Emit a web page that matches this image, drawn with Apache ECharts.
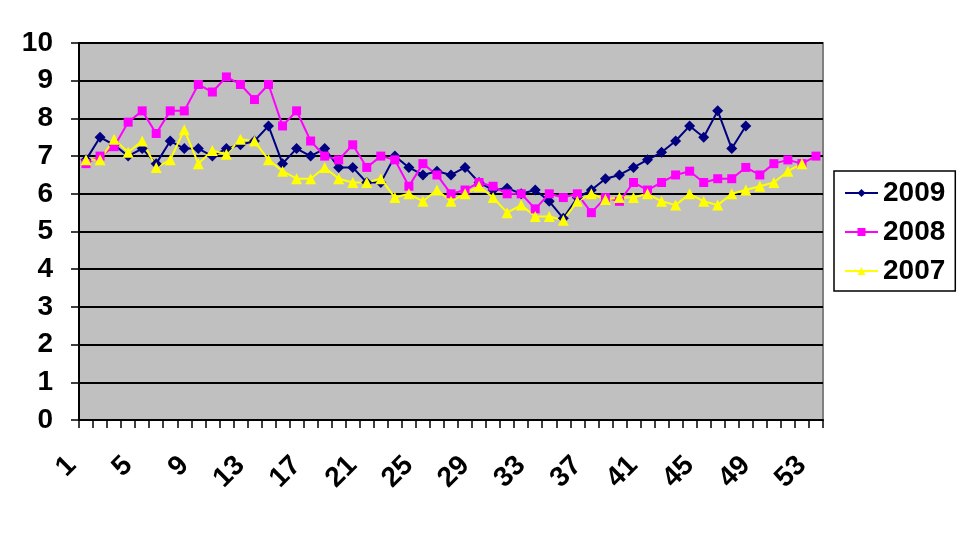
<!DOCTYPE html>
<html>
<head>
<meta charset="utf-8">
<script src="https://cdn.jsdelivr.net/npm/echarts@6/dist/echarts.min.js"></script>
<style>
html,body{margin:0;padding:0;background:#fff;}
#chart{width:969px;height:560px;}
</style>
</head>
<body>
<div id="chart"></div>
<script>
var categories = [];
for (var w = 1; w <= 53; w++) categories.push(String(w));

var s2009 = [6.9,7.5,7.3,7.0,7.2,6.8,7.4,7.2,7.2,7.0,7.2,7.3,7.4,7.8,6.8,7.2,7.0,7.2,6.7,6.7,
  6.3,6.3,7.0,6.7,6.5,6.6,6.5,6.7,6.3,6.1,6.15,6.0,6.1,5.8,5.35,5.9,6.1,6.4,6.5,6.7,
  6.9,7.1,7.4,7.8,7.5,8.2,7.2,7.8];
var s2008 = [6.8,7.0,7.25,7.9,8.2,7.6,8.2,8.2,8.9,8.7,9.1,8.9,8.5,8.9,7.8,8.2,7.4,7.0,6.9,7.3,
  6.7,7.0,6.9,6.2,6.8,6.5,6.0,6.1,6.3,6.2,6.0,6.0,5.6,6.0,5.9,6.0,5.5,5.9,5.8,6.3,
  6.1,6.3,6.5,6.6,6.3,6.4,6.4,6.7,6.5,6.8,6.9,6.8,7.0];
var s2007 = [6.9,6.9,7.45,7.1,7.4,6.7,6.9,7.7,6.8,7.15,7.05,7.45,7.4,6.9,6.6,6.4,6.4,6.7,6.4,6.3,
  6.3,6.4,5.9,6.0,5.8,6.1,5.8,6.0,6.2,5.9,5.5,5.7,5.4,5.4,5.3,5.8,6.0,5.85,5.9,5.9,
  6.0,5.8,5.7,6.0,5.8,5.7,6.0,6.1,6.2,6.3,6.6,6.8];
var seriesNames = ['2009','2008','2007'];
var yTicks = {min: 0, max: 10, interval: 1};

var FONT = '"Liberation Sans", Arial, sans-serif';
var FS = 28;
var chart = echarts.init(document.getElementById('chart'));
chart.setOption({
  animation: false,
  backgroundColor: '#ffffff',
  grid: {
    left: 79, right: 146, top: 43, bottom: 140,
    show: true, backgroundColor: '#C0C0C0', borderColor: '#808080', borderWidth: 2
  },
  legend: {
    orient: 'vertical',
    left: 834, top: 171,
    padding: [8, 10, 6, 10],
    borderColor: '#000', borderWidth: 1.5,
    backgroundColor: '#fff',
    itemWidth: 33, itemHeight: 10, itemGap: 11,
    textStyle: {fontFamily: FONT, fontWeight: 'bold', fontSize: FS, color: '#000'},
    data: seriesNames
  },
  xAxis: {
    type: 'category',
    data: categories,
    boundaryGap: true,
    axisLine: {show: true, lineStyle: {color: '#000', width: 2}},
    axisTick: {show: true, interval: 0, length: 8, lineStyle: {color: '#000', width: 1.5}},
    axisLabel: {
      interval: 3, rotate: 45, margin: 27, padding: [0, 20, 0, 0],
      fontFamily: FONT, fontWeight: 'bold', fontSize: FS, color: '#000'
    },
    splitLine: {show: false}
  },
  yAxis: {
    type: 'value',
    min: yTicks.min, max: yTicks.max, interval: yTicks.interval,
    axisLine: {show: true, lineStyle: {color: '#000', width: 2}},
    axisTick: {show: true, length: 8, lineStyle: {color: '#000', width: 1.5}},
    axisLabel: {margin: 26, fontFamily: FONT, fontWeight: 'bold', fontSize: FS, color: '#000'},
    splitLine: {show: true, lineStyle: {color: '#000', width: 2}}
  },
  series: [
    {name: seriesNames[0], type: 'line', data: s2009, symbol: 'diamond', symbolSize: 11,
     showAllSymbol: true,
     itemStyle: {color: '#000080'}, lineStyle: {color: '#000080', width: 2}},
    {name: seriesNames[1], type: 'line', data: s2008, symbol: 'rect', symbolSize: 9,
     showAllSymbol: true,
     itemStyle: {color: '#FF00FF'}, lineStyle: {color: '#FF00FF', width: 2}},
    {name: seriesNames[2], type: 'line', data: s2007, symbol: 'triangle', symbolSize: 11,
     showAllSymbol: true,
     itemStyle: {color: '#FFFF00'}, lineStyle: {color: '#FFFF00', width: 2}}
  ]
});
</script>
</body>
</html>
